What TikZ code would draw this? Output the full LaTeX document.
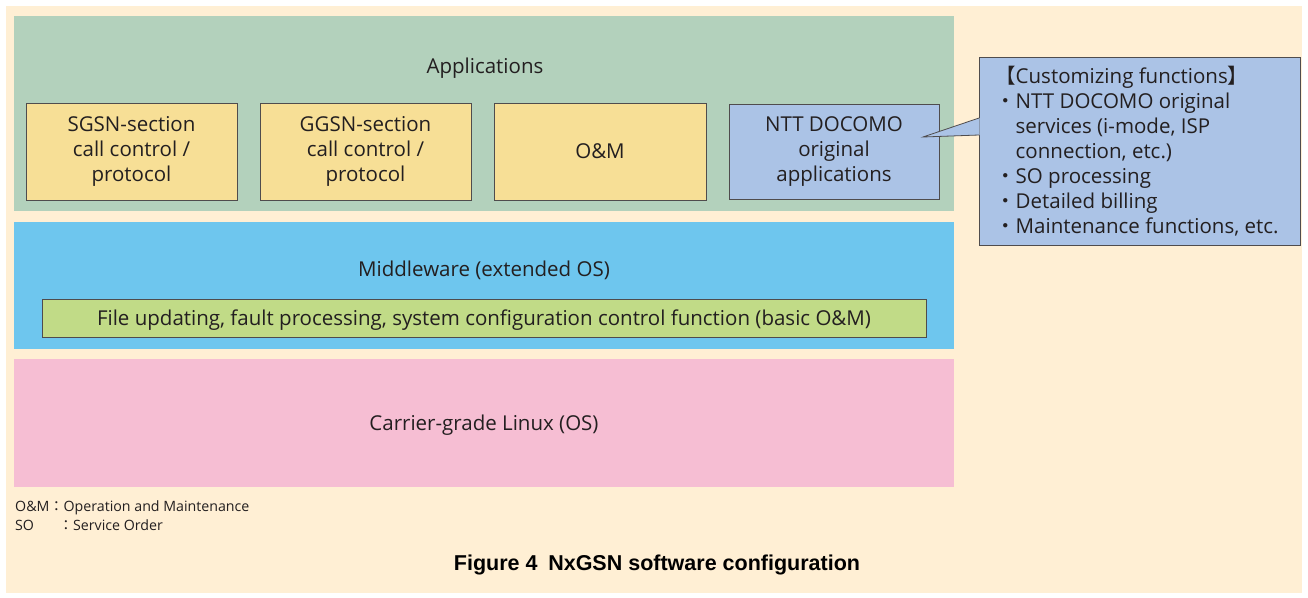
\documentclass[tikz,border=0pt]{standalone}
\usepackage{fontspec}
\setmainfont{Open Sans}
\newfontfamily\cjk{Noto Sans CJK JP}
\newfontfamily\capfont{Liberation Sans}
\definecolor{bg}{HTML}{FFEFD4}
\definecolor{appgreen}{HTML}{B3D1BC}
\definecolor{ybox}{HTML}{F7DF96}
\definecolor{bbox}{HTML}{ABC3E6}
\definecolor{mid}{HTML}{6EC6EE}
\definecolor{lgreen}{HTML}{C1DB87}
\definecolor{pink}{HTML}{F6BED3}
\definecolor{txt}{HTML}{231F20}
\begin{document}
\begin{tikzpicture}[x=1pt,y=-1pt,
  every node/.style={text=txt,font=\fontsize{20.5}{25}\selectfont},
  appbox/.style={draw=txt!80,line width=0.8pt,fill=ybox,align=center},
  lbl/.style={align=center,inner sep=0},
  legend/.style={anchor=west,inner sep=0,font=\fontsize{14.2}{17}\selectfont}]
\useasboundingbox (0,0) rectangle (1308,597);
\fill[white] (0,0) rectangle (1308,597);
\fill[bg] (6,6) rectangle (1302,593);
% layers
\fill[appgreen] (14,16) rectangle (954,211);
\fill[mid] (14,222) rectangle (954,349);
\fill[pink] (14,359) rectangle (954,487);
\node[lbl] (apps) at (485,68) {Applications};
\node[lbl] (mw) at (484,270) {Middleware (extended OS)};
\node[lbl] (os) at (484,425) {Carrier-grade Linux (OS)};
% app boxes
\node[appbox,minimum width=211pt,minimum height=97pt] (sgsn) at (131.5,151.5) {SGSN-section\\call control /\\protocol};
\node[appbox,minimum width=211pt,minimum height=97pt] (ggsn) at (365.5,151.5) {GGSN-section\\call control /\\protocol};
\node[appbox,minimum width=212pt,minimum height=97pt] (om) at (600,151.5) {O\&M};
\node[appbox,fill=bbox,minimum width=210pt,minimum height=95pt] (ntt) at (834,152) {NTT DOCOMO\\original\\applications};
% basic O&M bar
\node[appbox,fill=lgreen,minimum width=884pt,minimum height=38pt,text depth=0pt] (basic) at (484,318) {File updating, fault processing, system configuration control function (basic O\&M)};
% callout
\coordinate (tip) at (923,137);
\draw[draw=txt!80,line width=0.8pt,fill=bbox] (979,57) rectangle (1300,245);
\node[anchor=west,align=left,inner sep=0] (cust) at (995,151)
 {{\cjk 【}Customizing functions{\cjk 】}\\
  {\cjk ・}NTT DOCOMO original\\
  \hphantom{\cjk ・}services (i-mode, ISP\\
  \hphantom{\cjk ・}connection, etc.)\\
  {\cjk ・}SO processing\\
  {\cjk ・}Detailed billing\\
  {\cjk ・}Maintenance functions, etc.};
\fill[bbox] (979.6,118) -- (tip) -- (979.6,135) -- cycle;
\draw[draw=txt!80,line width=0.8pt] (979,118) -- (tip) -- (979,135);
% legend
\node[legend] (l1) at (15,508) {O\&M{\cjk ：}Operation and Maintenance};
\node[legend] (l2) at (15,525) {SO\hspace{1.75em}{\cjk ：}Service Order};
% caption
\node[inner sep=0,font=\capfont\bfseries\fontsize{21.5}{25}\selectfont,text=black] (cap) at (657,565) {Figure 4\hspace{0.5em}NxGSN software configuration};
\end{tikzpicture}
\end{document}
